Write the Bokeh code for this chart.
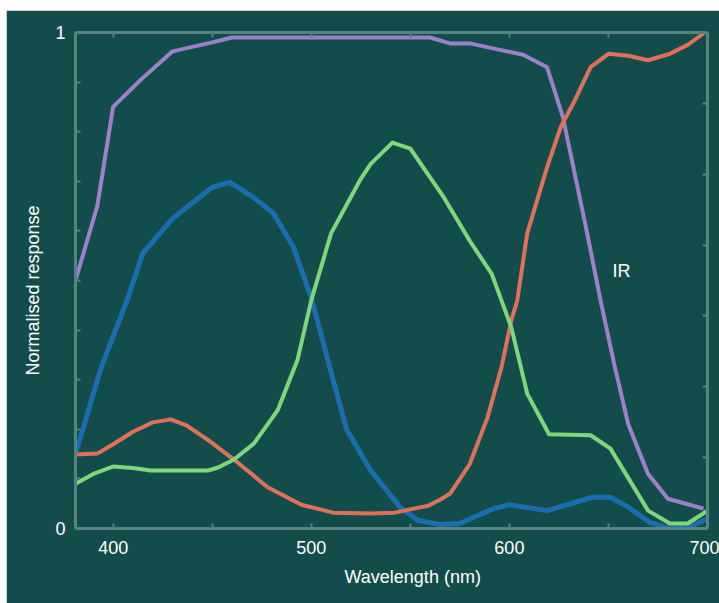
from bokeh.plotting import figure
from bokeh.models import LinearAxis, FixedTicker, Label, Range1d, Title
from bokeh.embed import file_html
from bokeh.resources import INLINE

# ---- data ----
purple_wl = [381, 392, 400, 414, 430, 450, 460, 560, 570, 580, 607, 619, 627, 639, 646, 653, 660, 670, 680, 698]
purple_v = [0.50, 0.65, 0.85, 0.905, 0.962, 0.98, 0.99, 0.99, 0.978, 0.978, 0.955, 0.93, 0.83, 0.60, 0.46, 0.33, 0.21, 0.11, 0.06, 0.04]

blue_wl = [381, 394, 407, 415, 430, 450, 459, 471, 481, 491, 500, 511, 518, 530, 545, 554, 565, 575, 592, 600, 619, 642, 651, 660, 671, 681, 692, 700]
blue_v = [0.15, 0.325, 0.46, 0.555, 0.625, 0.688, 0.698, 0.667, 0.635, 0.567, 0.466, 0.3, 0.198, 0.117, 0.042, 0.016, 0.008, 0.01, 0.04, 0.048, 0.036, 0.063, 0.063, 0.043, 0.012, 0.0, 0.005, 0.02]

red_wl = [381, 392, 400, 410, 420, 429, 437, 448, 461, 478, 495, 505, 511, 530, 542, 559, 565, 570, 580, 589, 596, 601, 604, 609, 619, 626, 633, 641, 650, 660, 670, 681, 690, 698]
red_v = [0.149, 0.151, 0.17, 0.195, 0.214, 0.22, 0.208, 0.178, 0.139, 0.083, 0.048, 0.038, 0.032, 0.03, 0.032, 0.046, 0.058, 0.07, 0.13, 0.224, 0.325, 0.42, 0.46, 0.595, 0.728, 0.81, 0.863, 0.93, 0.957, 0.953, 0.944, 0.957, 0.975, 0.998]

green_wl = [381, 390, 400, 410, 419, 448, 453, 461, 471, 483, 493, 500, 510, 525, 530, 541, 550, 567, 580, 591, 596, 601, 609, 620, 641, 651, 670, 681, 690, 700]
green_v = [0.09, 0.11, 0.125, 0.122, 0.117, 0.117, 0.123, 0.139, 0.171, 0.238, 0.339, 0.46, 0.595, 0.705, 0.735, 0.778, 0.766, 0.667, 0.58, 0.514, 0.46, 0.405, 0.272, 0.19, 0.188, 0.161, 0.036, 0.01, 0.01, 0.036]

x_ticks = [400, 450, 500, 550, 600, 650, 700]
x_tick_labels = {400: "400", 450: "", 500: "500", 550: "", 600: "600", 650: "", 700: "700"}
y_ticks = [i / 10 for i in range(11)]
y_tick_text = ["0"] + [""] * 9 + ["1"]
right_ticks = [i / 7 for i in range(8)]

x_title = "Wavelength (nm)"
y_title = "Normalised response"
ir_text = "IR"

# ---- style ----
BG = "#134d4b"
AX = "#55847f"
FONT = "Liberation Sans"
FS = "18px"

p = figure(width=713, height=593, output_backend="svg", toolbar_location=None,
           x_range=Range1d(381, 700), y_range=Range1d(0, 1),
           min_border_left=69, min_border_right=12, min_border_top=22, min_border_bottom=75,
           x_axis_location=None, y_axis_location=None)
p.styles = {"margin-top": "10px", "margin-left": "6px"}
p.background_fill_color = BG
p.border_fill_color = BG
p.outline_line_color = None
p.xgrid.visible = False
p.ygrid.visible = False


def style_axis(ax, labels=True):
    ax.axis_line_color = AX
    ax.axis_line_width = 3
    ax.major_tick_line_color = AX
    ax.major_tick_line_width = 2
    ax.major_tick_in = 5
    ax.major_tick_out = 0
    ax.minor_tick_line_color = None
    ax.major_label_text_color = "white" if labels else None
    ax.major_label_text_font = FONT
    ax.major_label_text_font_size = FS


bottom = LinearAxis(ticker=FixedTicker(ticks=x_ticks))
bottom.major_label_overrides = x_tick_labels
style_axis(bottom)
bottom.major_label_standoff = 12
p.add_layout(bottom, "below")

top = LinearAxis(ticker=FixedTicker(ticks=x_ticks))
style_axis(top, labels=False)
p.add_layout(top, "above")

left = LinearAxis(ticker=FixedTicker(ticks=y_ticks))
left.major_label_overrides = {k: v for k, v in zip(y_ticks, y_tick_text)}
style_axis(left)
left.major_label_standoff = 10
p.add_layout(left, "left")

right = LinearAxis(ticker=FixedTicker(ticks=right_ticks))
style_axis(right, labels=False)
p.add_layout(right, "right")

p.line(purple_wl, purple_v, line_color="#9d80c8", line_width=4, line_join="round")
p.line(blue_wl, blue_v, line_color="#1c6db0", line_width=5, line_join="round")
p.line(red_wl, red_v, line_color="#e0705a", line_width=4, line_join="round")
p.line(green_wl, green_v, line_color="#80d77b", line_width=4, line_join="round")

p.add_layout(Label(x=652, y=0.52, text=ir_text, text_color="white", text_font=FONT,
                   text_font_size=FS, text_align="left", text_baseline="middle"))

xt = Title(text=x_title, align="left", offset=269, text_color="white", text_font=FONT,
           text_font_size=FS, text_font_style="normal", standoff=16)
p.add_layout(xt, "below")
yt = Title(text=y_title, align="left", offset=153, text_color="white", text_font=FONT,
           text_font_size=FS, text_font_style="normal", standoff=19)
p.add_layout(yt, "left")

open("out.html", "w").write(file_html(p, INLINE))
